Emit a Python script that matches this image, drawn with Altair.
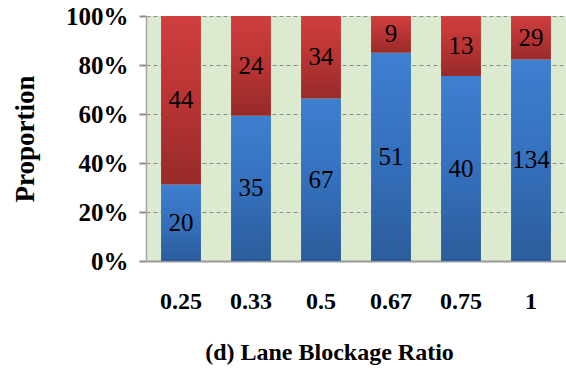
import altair as alt
import pandas as pd

# Lane blockage ratio categories and incident counts per outcome
ratios = ["0.25", "0.33", "0.5", "0.67", "0.75", "1"]
blue_counts = [20, 35, 67, 51, 40, 134]
red_counts = [44, 24, 34, 9, 13, 29]

df = pd.DataFrame({"ratio": ratios, "blue": blue_counts, "red": red_counts})

SERIF = "'Times New Roman', 'Liberation Serif', 'DejaVu Serif', serif"

base = alt.Chart(df).transform_calculate(
    total="datum.blue + datum.red",
).transform_calculate(
    pb="datum.blue / datum.total",
    one="1",
    zero="0",
).transform_calculate(
    mid_b="datum.pb / 2",
    mid_r="(datum.pb + 1) / 2",
)

x_enc = alt.X(
    "ratio:N",
    sort=ratios,
    scale=alt.Scale(paddingInner=0.43, paddingOuter=0.215),
    axis=alt.Axis(
        title="(d) Lane Blockage Ratio",
        labelAngle=0,
        ticks=False,
        domainColor="#9a9a9a",
        domainWidth=2,
        labelFont=SERIF,
        labelFontSize=24,
        labelFontWeight="bold",
        labelColor="black",
        labelPadding=28,
        titleFont=SERIF,
        titleFontSize=24,
        titleFontWeight="bold",
        titleColor="black",
        titleX=183,
        titleY=91,
        titleBaseline="middle",
    ),
)

y_axis = alt.Axis(
    values=[0, 0.2, 0.4, 0.6, 0.8, 1.0],
    format=".0%",
    grid=True,
    gridDash=[4, 3],
    gridColor="#8c8c8c",
    gridWidth=1,
    domainColor="#a6a6a6",
    domainWidth=1.5,
    tickColor="#8c8c8c",
    tickSize=7,
    tickWidth=2,
    labelFont=SERIF,
    labelFontSize=25,
    labelFontWeight="bold",
    labelColor="black",
    labelPadding=11,
    title="Proportion",
    titleFont=SERIF,
    titleFontSize=27,
    titleFontWeight="bold",
    titleColor="black",
    titleX=-121,
    titleY=122.5,
    titleAngle=270,
    titleAlign="center",
    titleBaseline="middle",
)

y_scale = alt.Scale(domain=[0, 1], nice=False)

blue_grad = alt.Gradient(
    gradient="linear",
    stops=[
        alt.GradientStop(color="#3e7fd0", offset=0),
        alt.GradientStop(color="#3570bd", offset=0.5),
        alt.GradientStop(color="#2c5c9b", offset=1),
    ],
    x1=0, x2=0, y1=0, y2=1,
)
red_grad = alt.Gradient(
    gradient="linear",
    stops=[
        alt.GradientStop(color="#d03e3e", offset=0),
        alt.GradientStop(color="#b93434", offset=0.5),
        alt.GradientStop(color="#982a2a", offset=1),
    ],
    x1=0, x2=0, y1=0, y2=1,
)

blue_bars = base.mark_bar(color=blue_grad).encode(
    x=x_enc,
    y=alt.Y("zero:Q", scale=y_scale, axis=y_axis),
    y2="pb:Q",
)
red_bars = base.mark_bar(color=red_grad).encode(
    x=x_enc,
    y=alt.Y("pb:Q", scale=y_scale, axis=y_axis),
    y2="one:Q",
)

blue_text = base.mark_text(
    font=SERIF, fontSize=25, color="black", baseline="middle"
).encode(
    x=x_enc,
    y=alt.Y("mid_b:Q", scale=y_scale, axis=y_axis),
    text="blue:Q",
)
red_text = base.mark_text(
    font=SERIF, fontSize=25, color="black", baseline="middle"
).encode(
    x=x_enc,
    y=alt.Y("mid_r:Q", scale=y_scale, axis=y_axis),
    text="red:Q",
)

chart = alt.layer(blue_bars, red_bars, blue_text, red_text).properties(
    width=420,
    height=245,
    autosize=alt.AutoSizeParams(type="none"),
    padding={"left": 146, "top": 16, "right": 0, "bottom": 110},
    background="white",
).configure_view(
    fill="#dcebcf",
    stroke=None,
)

chart.save("out.html", embed_options={"renderer": "svg", "actions": False})
